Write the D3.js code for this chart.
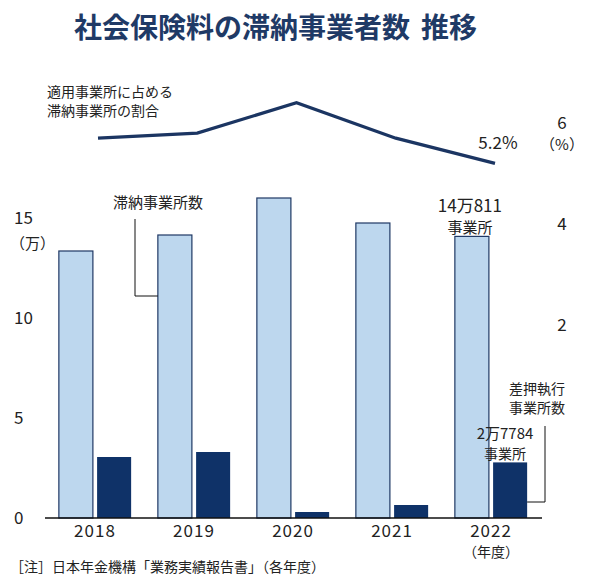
<!doctype html>
<html>
    <head>
        <meta charset="utf-8">
        <script src="https://cdn.jsdelivr.net/npm/d3@7/dist/d3.min.js"></script>
        <style>
            html, body {
                margin: 0;
                padding: 0;
                background: #fff;
            }
            svg text {
                font-family: "Noto Sans CJK JP", "Noto Sans", sans-serif;
                fill: #222;
            }
        </style>
    </head>
    <body>
        <div id="viz"></div>
        <script>
            // data
            var years = ["2018", "2019", "2020", "2021", "2022"];
            var delinquent = [13.35, 14.15, 16.0, 14.75, 14.08];   // 万事業所
            var seized = [3.05, 3.3, 0.3, 0.65, 2.78];              // 万事業所
            var ratio = [5.7, 5.8, 6.4, 5.7, 5.2];                  // %
            var leftTicks = [0, 5, 10, 15];
            var rightTicks = [2, 4, 6];

            var w = 589, h = 587;
            var navy = "#0f3268";
            var lightBlue = "#bdd7ee";

            var svg = d3.select("#viz").append("svg")
                .attr("width", w)
                .attr("height", h);

            // scales
            var x = d3.scaleBand().domain(years).range([45, 541])
                .paddingInner(0.27).paddingOuter(0.14);
            var xs = d3.scaleBand().domain(["a", "b"]).range([0, x.bandwidth()])
                .paddingInner(0.11);
            var yL = d3.scaleLinear().domain([0, 15]).range([518, 218]);
            var yR = d3.scaleLinear().domain([2, 6]).range([325, 123]);
            var xLine = d3.scalePoint().domain(years).range([98, 495]);

            // title
            var title = svg.append("text")
                .attr("x", 74).attr("y", 38)
                .style("font-size", "28px")
                .style("font-weight", "bold")
                .style("fill", "#1f3a66")
                .text("社会保険料の滞納事業者数");
            title.append("tspan")
                .attr("dx", 11)
                .style("fill", "#1f3a66")
                .text("推移");

            // bars
            var rows = years.map(function (y, i) {
                return {year: y, a: delinquent[i], b: seized[i]};
            });

            svg.selectAll("rect.light").data(rows).enter().append("rect")
                .attr("class", "light")
                .attr("x", function (d) { return x(d.year) + xs("a"); })
                .attr("y", function (d) { return yL(d.a); })
                .attr("width", xs.bandwidth())
                .attr("height", function (d) { return yL(0) - yL(d.a); })
                .attr("fill", lightBlue)
                .attr("stroke", "#1f3864")
                .attr("stroke-width", 1.2);

            svg.selectAll("rect.dark").data(rows).enter().append("rect")
                .attr("class", "dark")
                .attr("x", function (d) { return x(d.year) + xs("b"); })
                .attr("y", function (d) { return yL(d.b); })
                .attr("width", xs.bandwidth())
                .attr("height", function (d) { return yL(0) - yL(d.b); })
                .attr("fill", navy);

            // baseline
            svg.append("line")
                .attr("x1", 45).attr("x2", 542)
                .attr("y1", yL(0)).attr("y2", yL(0))
                .attr("stroke", "#111").attr("stroke-width", 1.5);

            // left axis (labels only)
            var gl = svg.append("g")
                .attr("transform", "translate(14,0)")
                .call(d3.axisLeft(yL).tickValues(leftTicks).tickSize(0));
            gl.select(".domain").remove();
            gl.selectAll("text")
                .attr("x", 0)
                .attr("text-anchor", "start")
                .style("font-size", "17px")
                .style("font-family", null);
            svg.append("text")
                .attr("x", 10).attr("y", yL(15) + 31)
                .style("font-size", "15px")
                .text("（万）");

            // right axis (labels only)
            var gr = svg.append("g")
                .attr("transform", "translate(562,0)")
                .call(d3.axisRight(yR).tickValues(rightTicks).tickSize(0)
                    .tickFormat(d3.format("d")));
            gr.select(".domain").remove();
            gr.selectAll("text")
                .attr("x", 0)
                .attr("text-anchor", "middle")
                .style("font-size", "17px")
                .style("font-family", null);
            svg.append("text")
                .attr("x", 562).attr("y", yR(6) + 27)
                .attr("text-anchor", "middle")
                .style("font-size", "15px")
                .text("（%）");

            // year labels
            svg.selectAll("text.year").data(years).enter().append("text")
                .attr("class", "year")
                .attr("x", function (d) { return x(d) + x.bandwidth() / 2; })
                .attr("y", 537)
                .attr("text-anchor", "middle")
                .style("font-size", "17px")
                .style("letter-spacing", "1px")
                .text(function (d) { return d; });
            svg.append("text")
                .attr("x", x("2022") + x.bandwidth() / 2).attr("y", 557)
                .attr("text-anchor", "middle")
                .style("font-size", "14px")
                .text("（年度）");

            // ratio line
            var line = d3.line()
                .x(function (d, i) { return xLine(years[i]); })
                .y(function (d) { return yR(d); });
            svg.append("path")
                .datum(ratio)
                .attr("d", line)
                .attr("fill", "none")
                .attr("stroke", "#1b3562")
                .attr("stroke-width", 3.2)
                .attr("stroke-linejoin", "miter");

            svg.append("text")
                .attr("x", 498).attr("y", 149)
                .attr("text-anchor", "middle")
                .style("font-size", "17px")
                .text(ratio[4] + "%");

            svg.append("text")
                .attr("x", 47).attr("y", 97)
                .style("font-size", "14px")
                .text("適用事業所に占める");
            svg.append("text")
                .attr("x", 47).attr("y", 116)
                .style("font-size", "14px")
                .text("滞納事業所の割合");

            // annotation: 滞納事業所数
            svg.append("text")
                .attr("x", 113).attr("y", 208)
                .style("font-size", "15px")
                .text("滞納事業所数");
            svg.append("path")
                .attr("d", "M135,219V" + yL(11.1) + "H" + (x("2019") + xs("a")))
                .attr("fill", "none")
                .attr("stroke", "#111").attr("stroke-width", 1);

            // annotation: 14万811
            var cx22 = x("2022") + xs("a") + xs.bandwidth() / 2;
            svg.append("text")
                .attr("x", cx22 - 2).attr("y", 212)
                .attr("text-anchor", "middle")
                .style("font-size", "17px")
                .text("14万811");
            svg.append("text")
                .attr("x", cx22 - 2).attr("y", 233)
                .attr("text-anchor", "middle")
                .style("font-size", "15px")
                .text("事業所");

            // annotation: 差押執行事業所数
            svg.append("text")
                .attr("x", 509).attr("y", 394)
                .style("font-size", "14px")
                .text("差押執行");
            svg.append("text")
                .attr("x", 509).attr("y", 413)
                .style("font-size", "14px")
                .text("事業所数");
            svg.append("path")
                .attr("d", "M545,426V" + yL(0.8) + "H" + (x("2022") + xs("b") + xs.bandwidth()))
                .attr("fill", "none")
                .attr("stroke", "#111").attr("stroke-width", 1);

            // annotation: 2万7784
            svg.append("text")
                .attr("x", 505).attr("y", 439)
                .attr("text-anchor", "middle")
                .style("font-size", "15px")
                .text("2万7784");
            svg.append("text")
                .attr("x", 505).attr("y", 459)
                .attr("text-anchor", "middle")
                .style("font-size", "14px")
                .text("事業所");

            // footnote
            svg.append("text")
                .attr("x", 10).attr("y", 572)
                .style("font-size", "14px")
                .text("［注］日本年金機構「業務実績報告書」（各年度）");
        </script>
    </body>
</html>
